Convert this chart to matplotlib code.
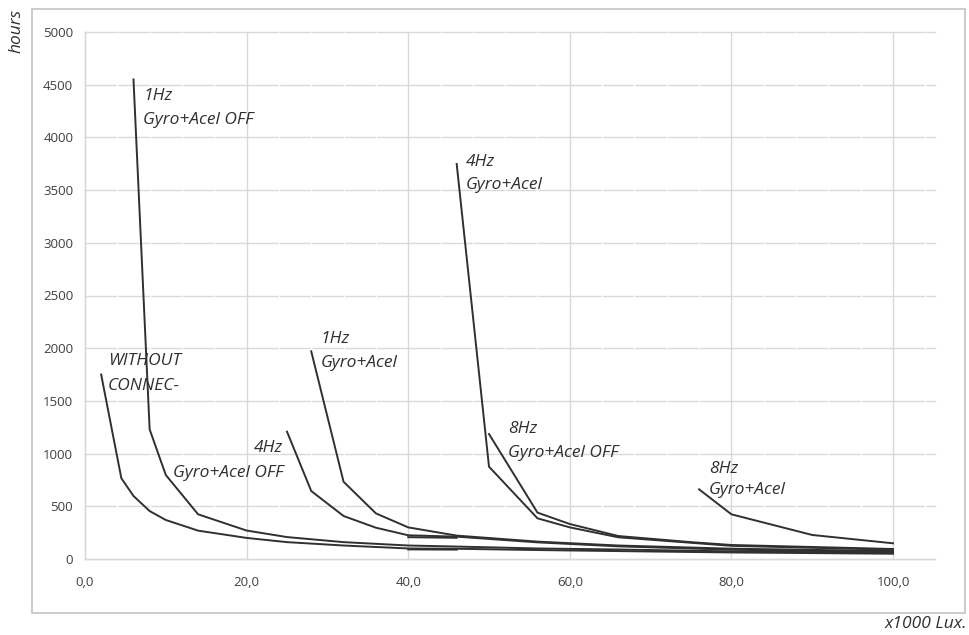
import matplotlib
matplotlib.use('Agg')
import matplotlib.pyplot as plt
from matplotlib.patches import Rectangle

# ---------------- data ----------------
x_without = [2, 4.5, 6, 8, 10, 14, 20, 25, 32, 40, 46, 56, 66, 80, 100]
y_without = [1750, 766, 598, 455, 370, 269, 200, 160, 128, 100, 97, 85, 75, 62, 50]

x_1hz_off = [6, 8, 10, 14, 20, 25, 32, 40, 46, 56, 66, 80, 100]
y_1hz_off = [4550, 1230, 797, 424, 270, 208, 160, 128, 118, 100, 90, 72, 58]

x_4hz_off = [25, 28, 32, 36, 40, 46, 56, 66, 80, 100]
y_4hz_off = [1208, 645, 408, 297, 225, 212, 158, 120, 88, 65]

x_1hz_gyro = [28, 32, 36, 40, 46, 56, 66, 80, 100]
y_1hz_gyro = [1970, 733, 433, 300, 222, 165, 128, 98, 75]

x_4hz_gyro = [46, 50, 56, 60, 66, 80, 100]
y_4hz_gyro = [3748, 876, 386, 300, 206, 125, 88]

x_8hz_off = [50, 56, 60, 66, 75, 80, 100]
y_8hz_off = [1186, 440, 332, 218, 160, 133, 95]

x_8hz_gyro = [76, 80, 90, 100]
y_8hz_gyro = [661, 424, 228, 149]

x_overlap_a = [40, 46]
y_overlap_a = [207, 201]
x_overlap_b = [40, 46]
y_overlap_b = [91, 89]

x_ticks = [0, 20, 40, 60, 80, 100]
x_tick_labels = ["0,0", "20,0", "40,0", "60,0", "80,0", "100,0"]
y_ticks = [0, 500, 1000, 1500, 2000, 2500, 3000, 3500, 4000, 4500, 5000]
y_tick_labels = [str(v) for v in y_ticks]

label_top = ["1Hz", "WITHOUT", "4Hz", "1Hz", "4Hz", "8Hz", "8Hz"]
label_bottom = ["Gyro+Acel OFF", "CONNEC-", "Gyro+Acel OFF", "Gyro+Acel",
                "Gyro+Acel", "Gyro+Acel OFF", "Gyro+Acel"]

# label layout (data coordinates): (x_top, y_top, ha_top, x_bottom, y_bottom)
label_layout = [
    (7.18, 4355, 'left', 7.18, 4127),
    (2.85, 1841, 'left', 2.85, 1603),
    (24.5, 1015, 'right', 10.9, 778),
    (29.2, 2049, 'left', 29.2, 1817),
    (47.15, 3729, 'left', 47.15, 3510),
    (52.35, 1195, 'left', 52.35, 968),
    (77.2, 820, 'left', 77.2, 612),
]

# ---------------- figure ----------------
W, H = 970, 635
fig = plt.figure(figsize=(W / 100, H / 100), dpi=100)
ax = fig.add_axes([85 / W, 76 / H, 850 / W, 527 / H])
ax.set_xlim(0, 850 / 8.08)
ax.set_ylim(0, 5000)

grid_col = '#d9d9d9'
ax.set_xticks(x_ticks)
ax.set_xticklabels(x_tick_labels)
ax.set_yticks(y_ticks)
ax.set_yticklabels(y_tick_labels)
ax.set_axisbelow(True)
ax.grid(True, color=grid_col, lw=1.0)
for gl in ax.get_ygridlines() + ax.get_xgridlines():
    gl.set_clip_on(False)

for side in ['top', 'right']:
    ax.spines[side].set_visible(False)
for side in ['left', 'bottom']:
    ax.spines[side].set_color(grid_col)
    ax.spines[side].set_linewidth(1.0)

# white minor breaks in the horizontal gridlines every 4 units
minor_x = [v for v in range(4, 105, 4) if v % 20 != 0]
ax.vlines(minor_x, 0, 5000, color='white', lw=1.0, zorder=1.0, clip_on=False)

ax.tick_params(axis='both', length=0, colors='#404040')
ax.tick_params(axis='y', pad=8.5)
ax.tick_params(axis='x', pad=12)
for t in ax.get_xticklabels() + ax.get_yticklabels():
    t.set_fontfamily('Open Sans')
    t.set_fontsize(9.5)

line_col = '#303030'
lw = 1.4
series = [
    (x_without, y_without), (x_1hz_off, y_1hz_off), (x_4hz_off, y_4hz_off),
    (x_1hz_gyro, y_1hz_gyro), (x_4hz_gyro, y_4hz_gyro), (x_8hz_off, y_8hz_off),
    (x_8hz_gyro, y_8hz_gyro), (x_overlap_a, y_overlap_a), (x_overlap_b, y_overlap_b),
]
for xs, ys in series:
    ax.plot(xs, ys, color=line_col, lw=lw, zorder=2, solid_joinstyle='miter')

txt = dict(family='Open Sans', style='italic', size=12.5, color='#303030')
for top, bottom, (xt, yt, hat, xb, yb) in zip(label_top, label_bottom, label_layout):
    ax.text(xt, yt, top, ha=hat, va='baseline', **txt)
    ax.text(xb, yb, bottom, ha='left', va='baseline', **txt)

# outer frame
fig.add_artist(Rectangle((32 / W, (H - 613) / H), (965 - 32) / W, (613 - 9) / H,
                         transform=fig.transFigure, fill=False,
                         ec='#c4c4c4', lw=1.2))

# axis titles
fig.text(16.3 / W, 1 - 30.5 / H, "hours", rotation=90, ha='center', va='center', **txt)
fig.text(967 / W, 1 - 628 / H, "x1000 Lux.", ha='right', va='baseline', **txt)

fig.savefig('out.png', dpi=100)
